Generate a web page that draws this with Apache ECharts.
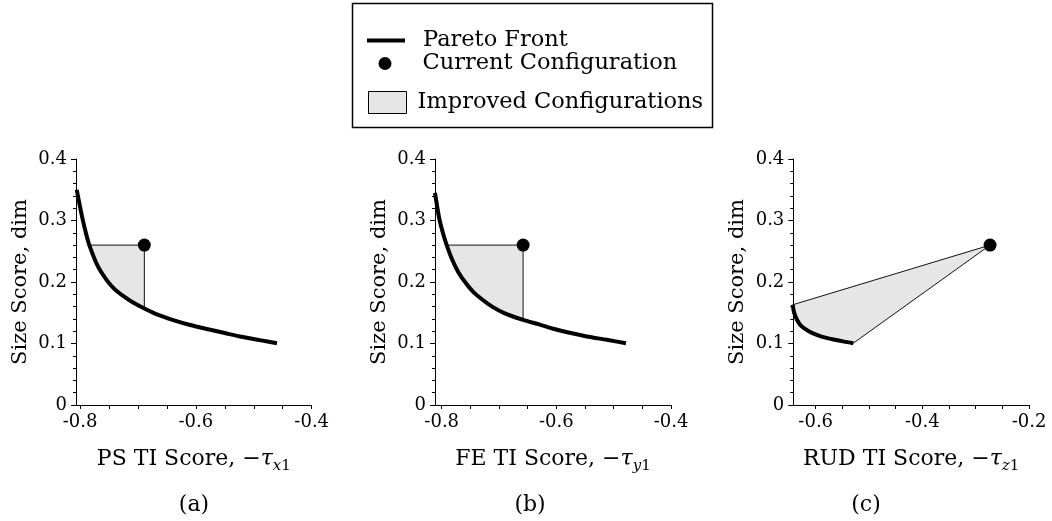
<!DOCTYPE html>
<html><head><meta charset="utf-8">
<script src="https://cdn.jsdelivr.net/npm/echarts@6/dist/echarts.min.js"></script>
<style>html,body{margin:0;padding:0;background:#fff}#c{width:1052px;height:521px}</style>
</head><body><div id="c"></div>
<script>
const FONT = 'DejaVu Serif';

// ---- Panel (a) ----
const frontA_x = [-0.8057, -0.800, -0.7953, -0.790, -0.784, -0.770, -0.754, -0.740, -0.725, -0.710, -0.689, -0.665, -0.639, -0.610, -0.581, -0.550, -0.524, -0.490, -0.460];
const frontA_y = [0.350, 0.322, 0.301, 0.280, 0.260, 0.227, 0.203, 0.188, 0.177, 0.1675, 0.157, 0.1465, 0.138, 0.130, 0.1235, 0.117, 0.1115, 0.1055, 0.1005];
const currentA = [-0.689, 0.26];
const regionA_x = [-0.784, -0.689, -0.689, -0.710, -0.725, -0.740, -0.754, -0.770];
const regionA_y = [0.260, 0.260, 0.157, 0.1675, 0.177, 0.188, 0.203, 0.227];

// ---- Panel (b) ----
const frontB_x = [-0.8117, -0.808, -0.804, -0.798, -0.7913, -0.782, -0.771, -0.7593, -0.745, -0.730, -0.712, -0.690, -0.658, -0.630, -0.6053, -0.575, -0.547, -0.512, -0.4785];
const frontB_y = [0.345, 0.323, 0.302, 0.280, 0.260, 0.237, 0.216, 0.200, 0.184, 0.172, 0.160, 0.149, 0.1384, 0.131, 0.124, 0.117, 0.1115, 0.106, 0.1005];
const currentB = [-0.658, 0.26];
const regionB_x = [-0.7913, -0.658, -0.658, -0.690, -0.712, -0.730, -0.745, -0.7593, -0.771, -0.782];
const regionB_y = [0.260, 0.260, 0.1384, 0.149, 0.160, 0.172, 0.184, 0.200, 0.216, 0.237];

// ---- Panel (c) ----
const frontC_x = [-0.643, -0.641, -0.637, -0.632, -0.626, -0.613, -0.598, -0.582, -0.564, -0.547, -0.5295];
const frontC_y = [0.163, 0.152, 0.142, 0.134, 0.1275, 0.120, 0.114, 0.1095, 0.106, 0.103, 0.1005];
const currentC = [-0.273, 0.26];
const regionC_x = [-0.643, -0.273, -0.5295, -0.547, -0.564, -0.582, -0.598, -0.613, -0.626, -0.632, -0.637, -0.641];
const regionC_y = [0.163, 0.260, 0.1005, 0.103, 0.106, 0.1095, 0.114, 0.120, 0.1275, 0.134, 0.142, 0.152];

// ---- Axes ----
const xMinA = -0.807, xMaxA = -0.4;
const xMinB = -0.8117, xMaxB = -0.4;
const xMinC = -0.642, xMaxC = -0.2;
const xLabelsAB = [-0.8, -0.6, -0.4];
const xTicksAB = [-0.8, -0.75, -0.7, -0.65, -0.6, -0.55, -0.5, -0.45, -0.4];
const xLabelsC = [-0.6, -0.4, -0.2];
const xTicksC = [-0.6, -0.55, -0.5, -0.45, -0.4, -0.35, -0.3, -0.25, -0.2];
const yMin = 0, yMax = 0.4, yStep = 0.1;
const xNames = [
  '{t|PS TI Score, \u2212}{i|\u03C4}{si|x}{sn|1}',
  '{t|FE TI Score, \u2212}{i|\u03C4}{si|y}{sn|1}',
  '{t|RUD TI Score, \u2212}{i|\u03C4}{si|z}{sn|1}'
];
const yName = 'Size Score, dim';
const panelLabels = ['(a)', '(b)', '(c)'];
const legendNames = ['Pareto Front', 'Current Configuration', 'Improved Configurations'];

const zip = (xs, ys) => xs.map((x, i) => [x, ys[i]]);

const grids = [
  {left: 76, top: 159, width: 235.7, height: 246},
  {left: 435, top: 159, width: 236, height: 246},
  {left: 793.3, top: 159, width: 235.7, height: 246}
];
const panels = [
  {min: xMinA, max: xMaxA, labels: xLabelsAB, ticks: xTicksAB, front: zip(frontA_x, frontA_y), cur: currentA, region: zip(regionA_x, regionA_y)},
  {min: xMinB, max: xMaxB, labels: xLabelsAB, ticks: xTicksAB, front: zip(frontB_x, frontB_y), cur: currentB, region: zip(regionB_x, regionB_y)},
  {min: xMinC, max: xMaxC, labels: xLabelsC, ticks: xTicksC, front: zip(frontC_x, frontC_y), cur: currentC, region: zip(regionC_x, regionC_y)}
];

const richName = {
  t: {fontFamily: FONT, fontSize: 22, color: '#000', lineHeight: 28},
  i: {fontFamily: FONT, fontSize: 22, fontStyle: 'italic', color: '#000', lineHeight: 28},
  si: {fontFamily: FONT, fontSize: 15, fontStyle: 'italic', color: '#000', lineHeight: 15, padding: [14, 0, 0, 0]},
  sn: {fontFamily: FONT, fontSize: 15, color: '#000', lineHeight: 15, padding: [14, 0, 0, 0]}
};

const xAxes = panels.map((p, i) => ({
  type: 'value', gridIndex: i, min: p.min, max: p.max,
  name: xNames[i], nameLocation: 'middle', nameGap: 40,
  nameTextStyle: {rich: richName},
  axisLine: {show: true, onZero: false, lineStyle: {color: '#000', width: 1}},
  axisTick: {show: true, customValues: p.ticks, length: 4, lineStyle: {color: '#000'}},
  axisLabel: {customValues: p.labels, color: '#000', fontFamily: FONT, fontSize: 18, margin: 8,
    formatter: v => String(+v.toFixed(2))},
  splitLine: {show: false}
}));
const yAxes = panels.map((p, i) => ({
  type: 'value', gridIndex: i, min: yMin, max: yMax, interval: yStep,
  name: yName, nameLocation: 'middle', nameGap: 45,
  nameTextStyle: {fontFamily: FONT, fontSize: 21, color: '#000'},
  axisLine: {show: true, onZero: false, lineStyle: {color: '#000', width: 1}},
  axisTick: {show: true, length: 5, lineStyle: {color: '#000'}},
  minorTick: {show: true, splitNumber: 5, length: 3, lineStyle: {color: '#000'}},
  axisLabel: {color: '#000', fontFamily: FONT, fontSize: 18, margin: 9,
    formatter: v => String(+v.toFixed(2))},
  splitLine: {show: false}
}));

const series = [];
panels.forEach((p, i) => {
  const region = p.region;
  series.push({
    name: legendNames[2], type: 'custom', xAxisIndex: i, yAxisIndex: i, z: 1,
    itemStyle: {color: '#e6e6e6', borderColor: '#000', borderWidth: 1},
    data: region,
    renderItem: (params, api) => {
      if (params.dataIndex !== 0) return;
      return {
        type: 'polygon',
        shape: {points: region.map(pt => api.coord(pt))},
        style: {fill: '#e6e6e6', stroke: '#111', lineWidth: 1}
      };
    }
  });
  series.push({
    name: legendNames[0], type: 'line', xAxisIndex: i, yAxisIndex: i, z: 3,
    data: p.front, smooth: 0.25, showSymbol: false, symbol: 'none', clip: false,
    color: '#000', lineStyle: {color: '#000', width: 4, cap: 'butt', join: 'round'}
  });
  series.push({
    name: legendNames[1], type: 'scatter', xAxisIndex: i, yAxisIndex: i, z: 4,
    data: [p.cur], symbol: 'circle', symbolSize: 13, clip: false,
    itemStyle: {color: '#000', opacity: 1}
  });
});

const legendText = {fontFamily: FONT, fontSize: 22.5, color: '#000'};
const option = {
  animation: false,
  backgroundColor: '#fff',
  grid: grids,
  xAxis: xAxes,
  yAxis: yAxes,
  legend: [
    {data: [{name: legendNames[0], icon: 'rect', itemStyle: {color: '#000', opacity: 1}}],
     left: 367, top: 29, padding: 0, itemWidth: 38, itemHeight: 4, selectedMode: false,
     textStyle: Object.assign({padding: [0, 0, 0, 13]}, legendText)},
    {data: [{name: legendNames[1], icon: 'circle', itemStyle: {color: '#000', opacity: 1}}],
     left: 378.5, top: 52, padding: 0, itemWidth: 13, itemHeight: 13, selectedMode: false,
     textStyle: Object.assign({padding: [0, 0, 0, 26]}, legendText)},
    {data: [{name: legendNames[2], icon: 'rect', itemStyle: {color: '#e6e6e6', borderColor: '#000', borderWidth: 1, opacity: 1}}],
     left: 368, top: 91, padding: 0, itemWidth: 38, itemHeight: 22, selectedMode: false,
     textStyle: Object.assign({padding: [0, 0, 0, 6]}, legendText)}
  ],
  graphic: [
    {type: 'rect', shape: {x: 352.5, y: 3.5, width: 360, height: 124}, style: {fill: 'none', stroke: '#000', lineWidth: 1.5}, silent: true, z: 0},
    {type: 'text', x: 194, y: 505, style: {text: panelLabels[0], fontFamily: FONT, fontSize: 22, fill: '#000', textAlign: 'center', textVerticalAlign: 'middle'}},
    {type: 'text', x: 530, y: 505, style: {text: panelLabels[1], fontFamily: FONT, fontSize: 22, fill: '#000', textAlign: 'center', textVerticalAlign: 'middle'}},
    {type: 'text', x: 866, y: 505, style: {text: panelLabels[2], fontFamily: FONT, fontSize: 22, fill: '#000', textAlign: 'center', textVerticalAlign: 'middle'}}
  ],
  series: series
};
const chart = echarts.init(document.getElementById('c'), null, {renderer: 'canvas'});
chart.setOption(option);
</script>
</body></html>
